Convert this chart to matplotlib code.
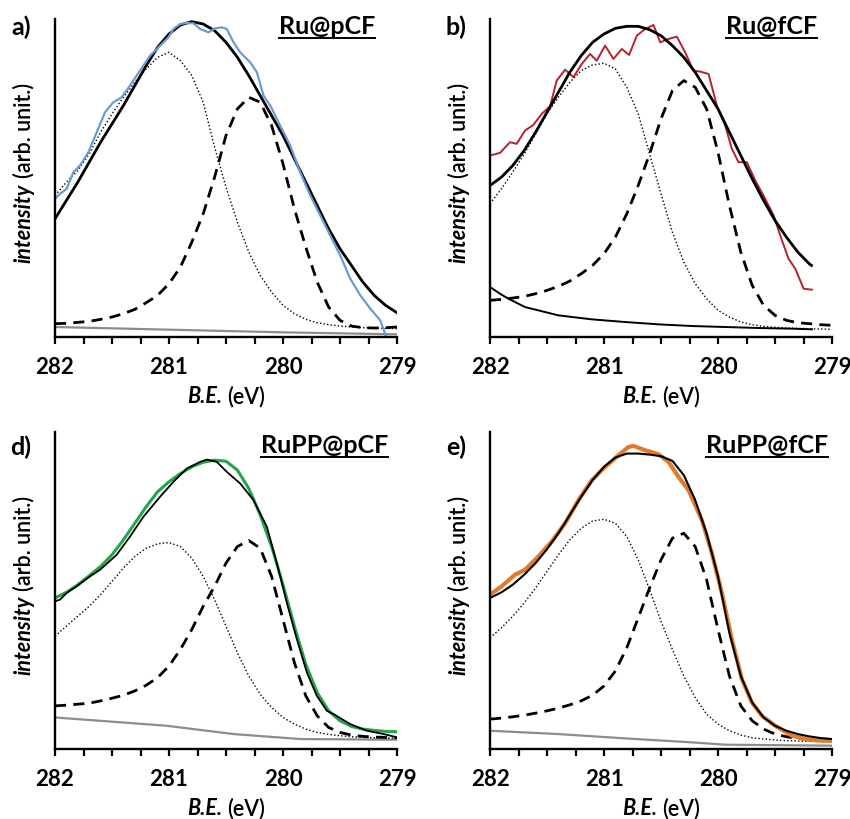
import matplotlib
matplotlib.use('Agg')
import matplotlib.pyplot as plt
from matplotlib.lines import Line2D
import numpy as np

plt.rcParams['font.family'] = ['Lato', 'DejaVu Sans']

# energy grid used for the fitted components (read every 0.1 eV)
be = [282.0, 281.9, 281.8, 281.7, 281.6, 281.5, 281.4, 281.3, 281.2, 281.1, 281.0,
      280.9, 280.8, 280.7, 280.6, 280.5, 280.4, 280.3, 280.2, 280.1, 280.0,
      279.9, 279.8, 279.7, 279.6, 279.5, 279.4, 279.3, 279.2, 279.1, 279.0]

# ---------------- a) Ru@pCF ----------------
a_env = [35.5, 41, 46.5, 52.5, 58.5, 64, 69.5, 75.5, 81.5, 87, 91, 93.7, 94.7, 94, 92, 88.5,
         84, 78.5, 72.5, 66.5, 60.5, 53.5, 46.5, 39.5, 32.5, 26.5, 21.5, 16.5, 12.5, 9.5, 7.3]
a_dot = [42.5, 46.5, 50, 55, 61.5, 67, 72, 76.5, 80.5, 84, 85.5, 83, 78.5, 70.5, 57, 45,
         34.5, 25.5, 18.5, 13.5, 9.5, 7, 5.3, 4.3, 3.7, 3.3, 3.0, 2.8, 2.7, 2.6, 2.5]
a_dash = [4.0, 4.1, 4.4, 4.7, 5.3, 6.0, 7.0, 8.3, 10.3, 12.5, 16, 21, 28.5, 37, 48, 60.5,
          68.5, 72, 70.5, 63.5, 52, 38.5, 27, 16.5, 9, 5, 3.3, 2.8, 2.7, 2.8, 3.0]
a_bg_x = [282.0, 281.5, 281.0, 280.5, 280.0, 279.5, 279.0]
a_bg = [3.0, 2.6, 2.2, 1.8, 1.4, 1.1, 0.8]
a_raw_x = [282.0, 281.956, 281.898, 281.839, 281.781, 281.707, 281.634, 281.561, 281.488,
           281.415, 281.342, 281.254, 281.166, 281.078, 281.005, 280.961, 280.902, 280.844,
           280.785, 280.727, 280.654, 280.595, 280.537, 280.493, 280.434, 280.376, 280.288,
           280.229, 280.171, 280.112, 280.025, 279.937, 279.849, 279.761, 279.673, 279.586,
           279.498, 279.410, 279.322, 279.234, 279.147, 279.094]
a_raw = [41.5, 43, 44.5, 49.5, 51.5, 55.5, 61.5, 67.5, 70.5, 72, 75.5, 80, 84.5, 87.5, 90,
         92.5, 94, 94.3, 94.2, 92.5, 91.5, 92.7, 93, 92.5, 88.5, 85.5, 82.5, 79.5, 72.5,
         69.5, 63.5, 57.5, 49.5, 42.5, 36.5, 30.5, 24.5, 17.5, 12.5, 8.5, 5, 0]

# ---------------- b) Ru@fCF ----------------
b_env_x = be[:29] + [279.18]
b_env = [45.5, 48, 51.5, 56, 61.5, 67.5, 73.5, 79.5, 84.5, 88.5, 91, 92.7, 93.3, 93.3, 92.3,
         90.5, 87.5, 84, 79.5, 74, 68.5, 61.5, 54.5, 47.5, 41, 35, 30, 25.5, 22, 21.5]
b_dot = [40, 44.5, 49.5, 55, 61, 67, 72, 76.5, 80, 81.7, 82.2, 80.5, 75, 67, 55, 43,
         31.5, 22.5, 16, 11.5, 8, 6, 4.5, 3.7, 3.2, 2.9, 2.7, 2.6, 2.5, 2.4, 2.3]
b_dash = [11, 11.3, 11.7, 12.2, 13, 14, 15.2, 16.8, 19, 21.5, 25, 30, 37, 45.5, 55,
          65.5, 74, 77, 75, 68.5, 55.5, 39.5, 25.5, 15.5, 9.5, 6.5, 5, 4.3, 4, 3.7, 3.5]
b_bg_x = [282.0, 281.912, 281.839, 281.693, 281.400, 281.107, 280.815, 280.522, 280.229,
          279.937, 279.644, 279.351, 279.176]
b_bg = [15, 13, 11.5, 9, 6.5, 5.3, 4.5, 3.8, 3.3, 3.0, 2.7, 2.5, 2.3]
b_raw_x = [282.000, 281.912, 281.824, 281.766, 281.693, 281.620, 281.546, 281.473, 281.415,
           281.341, 281.268, 281.195, 281.122, 281.064, 280.990, 280.917, 280.844, 280.780,
           280.712, 280.639, 280.566, 280.507, 280.434, 280.361, 280.288, 280.215, 280.156,
           280.083, 280.010, 279.937, 279.878, 279.820, 279.747, 279.673, 279.586, 279.512,
           279.454, 279.381, 279.322, 279.249, 279.176]
b_raw = [54.5, 55.3, 58.5, 58, 62, 63.7, 67, 69.3, 77, 80.3, 78, 82, 85, 83, 87.5, 83.5,
         86.5, 84.7, 90.5, 92.5, 93.7, 88.5, 89.5, 90.2, 85.5, 80, 79.7, 79, 69.5, 63.5,
         56.5, 52.5, 52.5, 47, 41.5, 36.5, 30.5, 23.5, 20.5, 14.5, 14.2]

# ---------------- d) RuPP@pCF ----------------
d_env = [45.5, 47.2, 49.5, 52.2, 55, 58.5, 63, 68, 73, 77.5, 80.5, 83, 85, 86.4, 87, 86.7,
         84, 78.5, 70.5, 61, 49.5, 37, 25.5, 17, 11.5, 8.5, 6.8, 6, 5.6, 5.3, 5.2]
d_dot = [34, 37, 40, 43, 46.5, 50.5, 54.5, 58, 60.5, 61.8, 62.2, 61, 57.5, 52, 45, 37,
         29, 22, 16.5, 12.5, 9.5, 7.5, 6, 5, 4.4, 4, 3.7, 3.5, 3.4, 3.3, 3.2]
d_dash = [13, 13.2, 13.5, 13.8, 14.5, 15.3, 16.2, 17.5, 19.2, 21.5, 25, 30, 36, 43, 49, 56,
          61, 62.8, 60.5, 52, 39, 26, 16, 10, 6.5, 5, 4.2, 3.8, 3.6, 3.5, 3.4]
d_bg_x = [282.0, 281.605, 281.020, 280.434, 279.849, 279.0]
d_bg = [9.5, 8.5, 7, 4.5, 3, 2.8]
d_raw_x = [282.0, 281.956, 281.898, 281.810, 281.693, 281.605, 281.459, 281.342, 281.224,
           281.078, 280.961, 280.844, 280.727, 280.668, 280.581, 280.493, 280.376, 280.259,
           280.142, 280.054, 279.966, 279.878, 279.790, 279.703, 279.615, 279.556, 279.410,
           279.264, 279.117, 279.0]
d_raw = [44.5, 45, 47, 49, 52, 54, 58.5, 64, 70, 76, 80.5, 84.5, 86.5, 87.2, 86.5, 83.5,
         80, 75, 67, 56, 44, 33, 23, 16, 11.5, 10.5, 7.5, 5.5, 4.5, 3.5]

# ---------------- e) RuPP@fCF ----------------
e_env = [45.5, 47.2, 49.5, 52.5, 56, 60.2, 65, 70.5, 76, 81, 85, 87.8, 89, 89, 88.7, 88.2,
         86.8, 82.5, 75, 65, 52, 35, 22, 14, 9.5, 7, 5.5, 4.5, 3.8, 3.3, 3.0]
e_dot = [33.5, 36.5, 40, 44, 48.5, 53.5, 58.5, 63, 66.5, 68.7, 69.2, 68, 64, 57, 48, 38.5,
         30, 22, 15.5, 10.5, 7.5, 5.5, 4.2, 3.4, 3.0, 2.7, 2.5, 2.4, 2.3, 2.3, 2.2]
e_dash = [9, 9.3, 9.7, 10.2, 10.8, 11.5, 12.3, 13.3, 14.5, 16.2, 19, 23.5, 30.5, 39.5, 48.5,
          57, 63.5, 65, 61, 51, 36, 22, 13, 8.5, 6, 4.5, 3.7, 3.2, 2.9, 2.8, 2.7]
e_bg_x = [282.0, 281.4, 280.815, 280.229, 279.937, 279.0]
e_bg = [5.5, 4.5, 3.2, 2.0, 1.3, 1.0]
e_raw_x = [282.0, 281.898, 281.781, 281.693, 281.576, 281.459, 281.341, 281.224, 281.107,
           280.990, 280.873, 280.785, 280.742, 280.639, 280.522, 280.434, 280.347, 280.259,
           280.142, 280.054, 279.966, 279.878, 279.790, 279.703, 279.615, 279.498, 279.351,
           279.205, 279.088, 279.0]
e_raw = [46.5, 49, 52.5, 54, 58, 62.5, 68, 75, 81, 85, 88.5, 91, 91.3, 90, 88.8, 86.5, 82,
         78, 69, 59, 47, 33, 21, 14, 10, 7, 4, 2.8, 2.5, 2.5]

titles = ['Ru@pCF', 'Ru@fCF', 'RuPP@pCF', 'RuPP@fCF']
letters = ['a)', 'b)', 'd)', 'e)']
title_x = [0.936, 0.956, 0.974, 0.988]

fig = plt.figure(figsize=(8.5, 8.2), dpi=100)
W, H = 850.0, 820.0
# axes boxes in pixels: left, top-of-axis, bottom-of-axis
boxes = [(55, 20, 338), (490, 20, 338), (55, 433, 750), (490, 433, 750)]
axs = []
for (l, t, b) in boxes:
    ax = fig.add_axes([l / W, 1 - b / H, 342 / W, (b - t) / H])
    axs.append(ax)

dash = (0, (4, 2.6))
dot = (0, (1, 1.6))

def style(ax, i):
    ax.set_xlim(282, 279)
    ax.set_ylim(0, 95.5)
    ax.spines['top'].set_visible(False)
    ax.spines['right'].set_visible(False)
    ax.spines['left'].set_linewidth(1.7)
    ax.spines['bottom'].set_linewidth(1.7)
    ax.set_yticks([])
    ax.set_xticks([282, 281, 280, 279])
    ax.set_xticks(np.arange(279, 282.01, 0.25), minor=True)
    ax.tick_params(axis='x', which='both', direction='out', length=5, width=1.6, pad=9)
    ax.tick_params(axis='x', which='major', labelsize=16)
    for lab in ax.get_xticklabels():
        lab.set_fontweight('bold')
    ty = 0.981 if i < 2 else 0.959
    ax.text(title_x[i], ty, titles[i], transform=ax.transAxes, ha='right', va='center',
            fontsize=18, fontweight='bold')
    ax.text(-0.10, ty - 0.003, letters[i], transform=ax.transAxes, ha='center', va='center',
            fontsize=18, fontweight='bold')

# a)
ax = axs[0]
ax.plot(a_bg_x, a_bg, color='#8c8c8c', lw=1.6)
ax.plot(be, a_dash, color='black', lw=2, ls=dash)
ax.plot(be, a_dot, color='black', lw=1, ls=dot)
ax.plot(be, a_env, color='black', lw=2)
ax.plot(a_raw_x, a_raw, color='#6b9bd2', lw=1.6)

# b)
ax = axs[1]
ax.plot(b_bg_x, b_bg, color='black', lw=1.4)
ax.plot(be, b_dash, color='black', lw=2, ls=dash)
ax.plot(be, b_dot, color='black', lw=1, ls=dot)
ax.plot(b_raw_x, b_raw, color='#b5222d', lw=1.4)
ax.plot(b_env_x, b_env, color='black', lw=2)

# d)
ax = axs[2]
ax.plot(d_bg_x, d_bg, color='#8c8c8c', lw=1.6)
ax.plot(be, d_dash, color='black', lw=2, ls=dash)
ax.plot(be, d_dot, color='black', lw=1, ls=dot)
ax.plot(be, d_env, color='#22a64c', lw=2.2)
ax.plot(d_raw_x, d_raw, color='black', lw=1.3)

# e)
ax = axs[3]
ax.plot(e_bg_x, e_bg, color='#8c8c8c', lw=1.6)
ax.plot(be, e_dash, color='black', lw=2, ls=dash)
ax.plot(be, e_dot, color='black', lw=1, ls=dot)
ax.plot(e_raw_x, e_raw, color='#e27a2a', lw=3)
ax.plot(be, e_env, color='black', lw=1.5)

for i, ax in enumerate(axs):
    style(ax, i)

# axis labels: italic part + plain part, placed side by side
fig.canvas.draw()
r = fig.canvas.get_renderer()
lab_size = 15.5
gap = 5
for (l, t, b) in boxes:
    # x label below the axis
    cx, yb = l + 171, b + 65
    t1 = fig.text(0, 0, 'B.E.', fontsize=lab_size, fontweight='bold', fontstyle='italic',
                  va='baseline', ha='left')
    t2 = fig.text(0, 0, '(eV)', fontsize=lab_size, fontweight='semibold',
                  va='baseline', ha='left')
    w1 = t1.get_window_extent(r).width
    w2 = t2.get_window_extent(r).width
    x0 = cx - (w1 + gap + w2) / 2
    t1.set_position((x0 / W, 1 - yb / H))
    t2.set_position(((x0 + w1 + gap) / W, 1 - yb / H))
    # y label left of the axis (reads bottom to top)
    cy = (t + b) / 2 - 6
    xc = l - 31
    s1 = fig.text(0, 0, 'intensity', fontsize=lab_size, fontweight='bold',
                  fontstyle='italic', rotation=90, ha='center', va='bottom')
    s2 = fig.text(0, 0, '(arb. unit.)', fontsize=lab_size, fontweight='semibold',
                  rotation=90, ha='center', va='bottom')
    h1 = s1.get_window_extent(r).height
    h2 = s2.get_window_extent(r).height
    ybot = cy + (h1 + gap + h2) / 2          # pixel row (from top) of the label's lower end
    s1.set_position((xc / W, 1 - ybot / H))
    s2.set_position((xc / W, 1 - (ybot - h1 - gap) / H))

# underline the sample names
fig.canvas.draw()
for ax in axs:
    tt = ax.texts[0]
    bb = tt.get_window_extent(renderer=r)
    y = (bb.y0 - 1) / H
    fig.add_artist(Line2D([bb.x0 / W, bb.x1 / W], [y, y], color='black', lw=1.4))

fig.savefig('out.png', dpi=100)
